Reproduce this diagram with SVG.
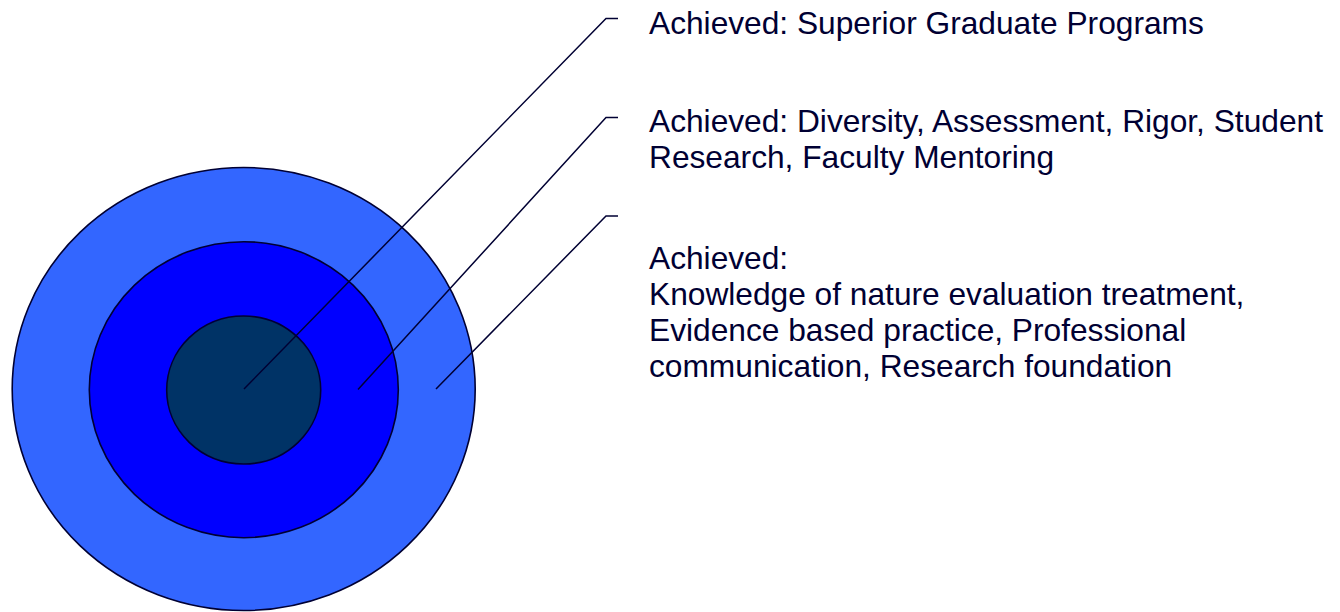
<svg xmlns="http://www.w3.org/2000/svg" width="1340" height="612" viewBox="0 0 1340 612">
  <style>
    .ring { stroke: #000033; stroke-width: 1.6; }
    .leader { fill: none; stroke: #000033; stroke-width: 1.5; }
    .label { font-family: "Liberation Sans", Arial, sans-serif; font-size: 31.7px; fill: #000033; }
  </style>
  <rect width="1340" height="612" fill="#ffffff"/>

  <!-- concentric rings -->
  <g id="ring-outer">
    <ellipse class="ring" cx="243.7" cy="389" rx="231.5" ry="221.5" fill="#3366FF"/>
  </g>
  <g id="ring-middle">
    <ellipse class="ring" cx="243.8" cy="389.7" rx="154.5" ry="148" fill="#0000FF"/>
  </g>
  <g id="ring-inner">
    <ellipse class="ring" cx="243.7" cy="390" rx="77" ry="74" fill="#003366"/>
  </g>

  <!-- leader lines -->
  <g id="connectors">
    <polyline class="leader" points="244,389 606,18.5 618,18.5"/>
    <polyline class="leader" points="358,389.5 606,117.5 618,117.5"/>
    <polyline class="leader" points="436,389 606,216 618,216"/>
  </g>

  <!-- labels -->
  <g id="label-inner">
    <text class="label" x="649" y="33.5">Achieved: Superior Graduate Programs</text>
  </g>
  <g id="label-middle">
    <text class="label" x="649" y="131.7">Achieved: Diversity, Assessment, Rigor, Student</text>
    <text class="label" x="649" y="167.7">Research, Faculty Mentoring</text>
  </g>
  <g id="label-outer">
    <text class="label" x="649" y="268.5">Achieved:</text>
    <text class="label" x="649" y="304.5">Knowledge of nature evaluation treatment,</text>
    <text class="label" x="649" y="340.5">Evidence based practice, Professional</text>
    <text class="label" x="649" y="376.5">communication, Research foundation</text>
  </g>
</svg>
